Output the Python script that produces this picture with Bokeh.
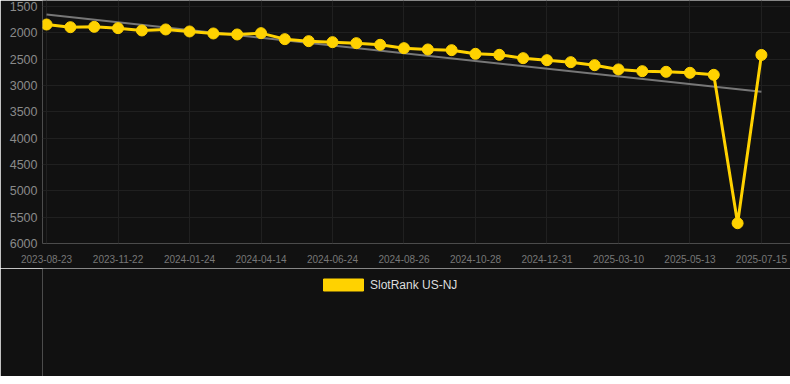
import numpy as np
from bokeh.plotting import figure
from bokeh.layouts import column
from bokeh.models import Range1d, FixedTicker, Legend, LegendItem, ColumnDataSource
from bokeh.embed import file_html
from bokeh.resources import INLINE

dates = ["2023-08-23", "2023-09-22", "2023-10-22", "2023-11-22", "2023-12-13", "2024-01-03",
         "2024-01-24", "2024-02-20", "2024-03-18", "2024-04-14", "2024-05-08", "2024-05-31",
         "2024-06-24", "2024-07-15", "2024-08-05", "2024-08-26", "2024-09-16", "2024-10-07",
         "2024-10-28", "2024-11-18", "2024-12-09", "2024-12-31", "2025-01-23", "2025-02-15",
         "2025-03-10", "2025-03-31", "2025-04-22", "2025-05-13", "2025-06-03", "2025-06-24",
         "2025-07-15"]
ranks = [1842, 1893, 1886, 1911, 1955, 1936, 1974, 2012, 2031, 2006,
         2120, 2158, 2177, 2196, 2227, 2291, 2316, 2329, 2398, 2417,
         2481, 2519, 2557, 2614, 2695, 2728, 2740, 2759, 2797, 5615,
         2420]
y_ticks = [1500, 2000, 2500, 3000, 3500, 4000, 4500, 5000, 5500, 6000]
series_name = "SlotRank US-NJ"

BG = "#111111"
GOLD = "#FFD200"

x = list(range(len(dates)))
x_ticks = x[::3]
coef = np.polyfit(x, ranks, 1)
trend_x = [x[0], x[-1]]
trend_y = [coef[0] * xx + coef[1] for xx in trend_x]

p = figure(width=790, height=268, output_backend="svg", toolbar_location=None,
           x_range=Range1d(-0.17, 31.22), y_range=Range1d(6000, 1386),
           min_border_left=42, min_border_right=0, min_border_top=0, min_border_bottom=25,
           background_fill_color=BG, border_fill_color=BG, outline_line_color=None)

p.line(trend_x, trend_y, line_color="#777777", line_width=2)
src = ColumnDataSource(dict(x=x, y=ranks))
p.line("x", "y", source=src, line_color=GOLD, line_width=3)
p.scatter("x", "y", source=src, size=11, fill_color=GOLD, line_color=GOLD)

p.xaxis.ticker = FixedTicker(ticks=x_ticks)
p.xaxis.major_label_overrides = {i: dates[i] for i in x_ticks}
p.yaxis.ticker = FixedTicker(ticks=y_ticks)

for ax in (p.xaxis[0], p.yaxis[0]):
    ax.axis_line_color = None
    ax.major_tick_line_color = None
    ax.minor_tick_line_color = None
    ax.major_tick_out = 0
    ax.major_tick_in = 0
p.xaxis.major_label_text_font = "Liberation Sans"
p.xaxis.major_label_text_font_size = "10px"
p.xaxis.major_label_text_color = "#777777"
p.xaxis.major_label_standoff = 11
p.yaxis.major_label_text_font = "Liberation Sans"
p.yaxis.major_label_text_font_size = "12.5px"
p.yaxis.major_label_text_color = "#8a8a8a"
p.yaxis.major_label_standoff = 5

p.xgrid.ticker = FixedTicker(ticks=x_ticks)
p.ygrid.ticker = FixedTicker(ticks=y_ticks)
p.xgrid.grid_line_color = "#202020"
p.ygrid.grid_line_color = "#202020"

# legend-only figure below the chart
LF_H = 108
lf = figure(width=790, height=LF_H, output_backend="svg", toolbar_location=None,
            x_range=Range1d(0, 1), y_range=Range1d(0, 1),
            min_border_left=0, min_border_right=0, min_border_top=0, min_border_bottom=0,
            background_fill_color=BG, border_fill_color=BG, outline_line_color=None)
lf.axis.visible = False
lf.grid.visible = False
swatch = lf.rect(x=[-5], y=[-5], width=0.1, height=0.1, fill_color=GOLD, line_color=GOLD)
legend = Legend(items=[LegendItem(label=series_name, renderers=[swatch])],
                location=(276, LF_H - 24), orientation="horizontal",
                glyph_width=50, glyph_height=15, label_text_font="Liberation Sans",
                label_text_font_size="12px", label_text_color="#dddddd",
                label_height=15, label_text_baseline="middle",
                background_fill_alpha=0, border_line_color=None,
                margin=0, padding=0, spacing=0, label_standoff=2)
lf.add_layout(legend)

layout = column(p, lf, spacing=0)
open("out.html", "w").write(file_html(layout, INLINE))
